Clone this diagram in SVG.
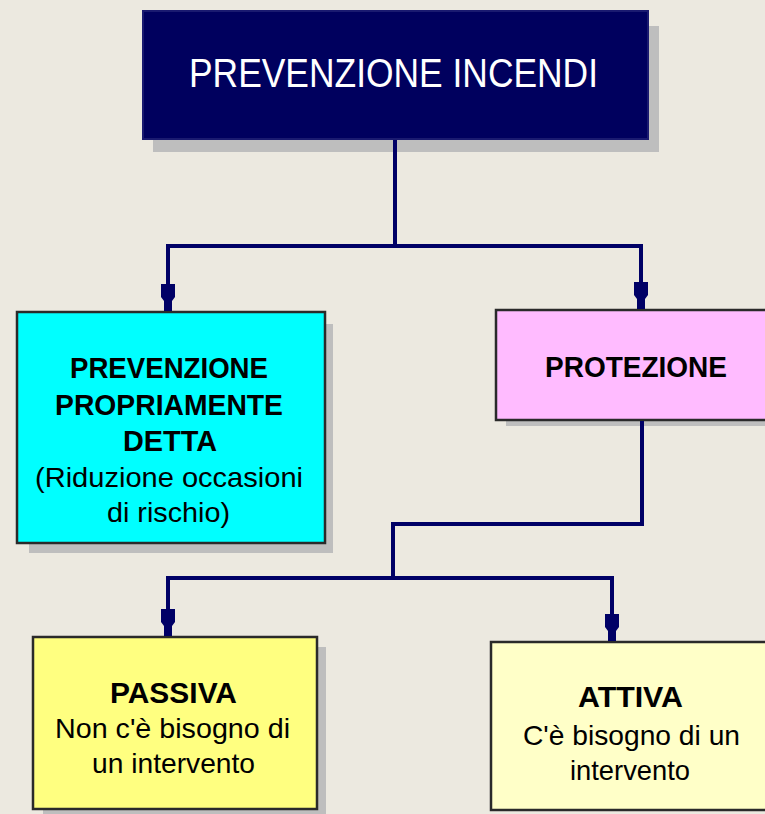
<svg xmlns="http://www.w3.org/2000/svg" xmlns:xlink="http://www.w3.org/1999/xlink" width="765" height="814" viewBox="0 0 765 814">
<style>
.bg{fill:#ECE9E0}
.shadow{fill:#BEBEBE}
.box{stroke:#2A2A2A;stroke-width:2.5}
.conn{fill:none;stroke:#000066;stroke-width:4;stroke-linejoin:miter}
.ah{fill:#000066}
text{font-family:"Liberation Sans",Arial,sans-serif;text-anchor:middle}
.b{font-weight:bold;font-size:29px;fill:#000}
.r{font-size:28px;fill:#000}
.w{font-size:40px;fill:#FFFFFF}
</style>
<defs>
<path id="ah" d="M-7,-27 L7,-27 L7,-14 L4,-10 L4,0 L-4,0 L-4,-10 L-7,-14 Z"/>
</defs>
<rect class="bg" x="0" y="0" width="765" height="814"/>

<g id="node-prevenzione-incendi">
<rect class="shadow" x="153" y="26" width="506" height="126"/>
<rect x="143" y="11" width="505" height="128" fill="#00005E" stroke="#1A1A70" stroke-width="2"/>
<text class="w" x="393.5" y="87" textLength="409" lengthAdjust="spacingAndGlyphs">PREVENZIONE INCENDI</text>
</g>

<g id="node-prevenzione-propriamente">
<rect class="shadow" x="29" y="324" width="304" height="229"/>
<rect class="box" x="17" y="312" width="308" height="231" fill="#00FFFF"/>
<text class="b" x="169" y="378" textLength="198" lengthAdjust="spacingAndGlyphs">PREVENZIONE</text>
<text class="b" x="169" y="415" textLength="228" lengthAdjust="spacingAndGlyphs">PROPRIAMENTE</text>
<text class="b" x="170" y="451" textLength="94" lengthAdjust="spacingAndGlyphs">DETTA</text>
<text class="r" x="169" y="487" textLength="268" lengthAdjust="spacingAndGlyphs">(Riduzione occasioni</text>
<text class="r" x="168.5" y="522" textLength="123" lengthAdjust="spacingAndGlyphs">di rischio)</text>
</g>

<g id="node-protezione">
<rect class="shadow" x="506" y="320" width="270" height="106"/>
<rect class="box" x="496" y="310" width="275" height="110" fill="#FFBBFF"/>
<text class="b" x="636" y="377" textLength="182" lengthAdjust="spacingAndGlyphs">PROTEZIONE</text>
</g>

<g id="node-passiva">
<rect class="shadow" x="43" y="647" width="283" height="170"/>
<rect class="box" x="33" y="637" width="284" height="172" fill="#FFFF80"/>
<text class="b" x="173.5" y="703" textLength="127" lengthAdjust="spacingAndGlyphs">PASSIVA</text>
<text class="r" x="172.5" y="738" textLength="235" lengthAdjust="spacingAndGlyphs">Non c'è bisogno di</text>
<text class="r" x="173.5" y="773" textLength="163" lengthAdjust="spacingAndGlyphs">un intervento</text>
</g>

<g id="node-attiva">
<rect class="box" x="491" y="642" width="280" height="168" fill="#FFFFC8"/>
<text class="b" x="630.5" y="707" textLength="105" lengthAdjust="spacingAndGlyphs">ATTIVA</text>
<text class="r" x="631.5" y="745" textLength="217" lengthAdjust="spacingAndGlyphs">C'è bisogno di un</text>
<text class="r" x="630" y="780" textLength="120" lengthAdjust="spacingAndGlyphs">intervento</text>
</g>

<g id="connectors">
<path class="conn" d="M395,140 V246 H168 V306"/>
<path class="conn" d="M395,246 H641 V306"/>
<path class="conn" d="M642,421 V524 H393 V578 H168 V633"/>
<path class="conn" d="M393,578 H612 V638"/>
<use href="#ah" class="ah" x="168" y="311"/>
<use href="#ah" class="ah" x="641" y="309"/>
<use href="#ah" class="ah" x="168" y="636"/>
<use href="#ah" class="ah" x="612" y="641"/>
</g>
</svg>
